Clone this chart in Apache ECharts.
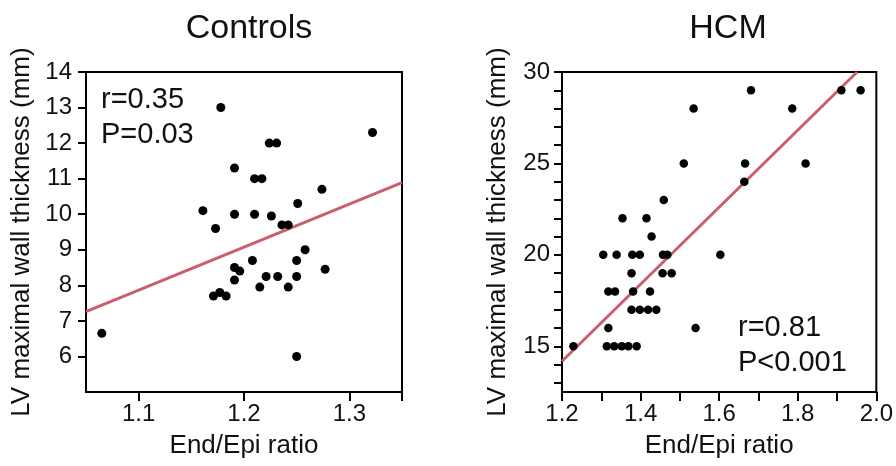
<!DOCTYPE html>
<html>
<head>
<meta charset="utf-8">
<script src="https://cdn.jsdelivr.net/npm/echarts@6/dist/echarts.min.js"></script>
<style>
  html, body { margin: 0; padding: 0; background: #fff; }
  #chart { width: 896px; height: 466px; }
</style>
</head>
<body>
<div id="chart"></div>
<script>
// Controls: End/Epi ratio vs LV maximal wall thickness
const controlsPoints = [
    [1.065, 6.65], [1.178, 13.0], [1.161, 10.1], [1.173, 9.6], [1.191, 11.3],
    [1.191, 10.0], [1.210, 11.0], [1.217, 11.0], [1.224, 12.0], [1.231, 12.0],
    [1.210, 10.0], [1.226, 9.95], [1.236, 9.7], [1.242, 9.7], [1.251, 10.3],
    [1.274, 10.7], [1.258, 9.0], [1.250, 8.7], [1.277, 8.45], [1.208, 8.7],
    [1.191, 8.5], [1.196, 8.4], [1.191, 8.15], [1.171, 7.7], [1.177, 7.8],
    [1.183, 7.7], [1.215, 7.95], [1.221, 8.25], [1.232, 8.25], [1.242, 7.95],
    [1.250, 8.25], [1.250, 6.0], [1.322, 12.3]
];
const controlsFit = [[1.05, 7.26], [1.35, 10.89]];

// HCM
const hcmPoints = [
    [1.229, 15], [1.314, 15], [1.333, 15], [1.352, 15], [1.369, 15], [1.390, 15],
    [1.318, 16], [1.540, 16],
    [1.377, 17], [1.398, 17], [1.419, 17], [1.440, 17],
    [1.318, 18], [1.335, 18], [1.381, 18], [1.424, 18],
    [1.377, 19], [1.456, 19], [1.479, 19],
    [1.305, 20], [1.339, 20], [1.379, 20], [1.398, 20], [1.457, 20], [1.468, 20], [1.603, 20],
    [1.428, 21], [1.354, 22], [1.415, 22], [1.459, 23],
    [1.664, 24], [1.510, 25], [1.666, 25], [1.820, 25],
    [1.535, 28], [1.786, 28], [1.681, 29], [1.911, 29], [1.960, 29]
];
const hcmFit = [[1.2, 14.18], [1.951, 30]];

// tick lists
const controlsXTicks = [1.1, 1.2, 1.3, 1.35];
const controlsXLabels = [1.1, 1.2, 1.3];
const controlsYTicks = [6, 7, 8, 9, 10, 11, 12, 13, 14];
const hcmXTicks = [1.2, 1.3, 1.4, 1.5, 1.6, 1.7, 1.8, 1.9, 2.0];
const hcmXLabels = [1.2, 1.4, 1.6, 1.8, 2.0];
const hcmYTicks = [13, 14, 15, 16, 17, 18, 19, 20, 21, 22, 23, 24, 25, 26, 27, 28, 29, 30];
const hcmYLabels = [15, 20, 25, 30];

const FONT = "'Liberation Sans', Arial, sans-serif";
const chart = echarts.init(document.getElementById("chart"));

function xAxisOf(idx, min, max, ticks, labels, fmt) {
    return {
        type: 'value', gridIndex: idx, min: min, max: max,
        name: 'End/Epi ratio', nameLocation: 'middle', nameGap: 41,
        nameTextStyle: {fontFamily: FONT, fontSize: 26, color: '#111'},
        axisLine: {lineStyle: {color: '#000', width: 2}},
        axisTick: {length: 9, lineStyle: {color: '#000', width: 2}, customValues: ticks},
        axisLabel: {fontFamily: FONT, fontSize: 24, color: '#111', margin: 10,
            customValues: labels, formatter: fmt},
        splitLine: {show: false}
    };
}
function yAxisOf(idx, min, max, ticks, labels, margin) {
    return {
        type: 'value', gridIndex: idx, min: min, max: max,
        name: 'LV maximal wall thickness (mm)', nameLocation: 'middle', nameGap: 51,
        nameTextStyle: {fontFamily: FONT, fontSize: 26, color: '#111'},
        axisLine: {lineStyle: {color: '#000', width: 2}},
        axisTick: {length: 8, lineStyle: {color: '#000', width: 2}, customValues: ticks},
        axisLabel: {fontFamily: FONT, fontSize: 24, color: '#111', margin: margin,
            customValues: labels},
        splitLine: {show: false}
    };
}

const option = {
    animation: false,
    backgroundColor: '#fff',
    title: [
        {text: 'Controls', left: 244, top: 7, textAlign: 'center',
            textStyle: {fontFamily: FONT, fontSize: 34, fontWeight: 'normal', color: '#111'}},
        {text: 'HCM', left: 723, top: 7, textAlign: 'center',
            textStyle: {fontFamily: FONT, fontSize: 34, fontWeight: 'normal', color: '#111'}}
    ],
    grid: [
        {left: 86, top: 72, right: 494, bottom: 74, show: true, borderColor: '#000', borderWidth: 2},
        {left: 562, top: 72, right: 18, bottom: 74, show: true, borderColor: '#000', borderWidth: 2}
    ],
    xAxis: [
        xAxisOf(0, 1.05, 1.35, controlsXTicks, controlsXLabels, function (v) { return v.toFixed(1); }),
        xAxisOf(1, 1.2, 2.0, hcmXTicks, hcmXLabels, function (v) { return v.toFixed(1); })
    ],
    yAxis: [
        yAxisOf(0, 5, 14, controlsYTicks, controlsYTicks, 14),
        yAxisOf(1, 12.5, 30, hcmYTicks, hcmYLabels, 12)
    ],
    graphic: [
        {type: 'text', left: 101, top: 82, z: 10,
            style: {text: 'r=0.35\nP=0.03', font: '29px ' + FONT, fill: '#111', lineHeight: 35}},
        {type: 'text', left: 738, top: 310, z: 10,
            style: {text: 'r=0.81\nP<0.001', font: '29px ' + FONT, fill: '#111', lineHeight: 35}}
    ],
    series: [
        {type: 'line', xAxisIndex: 0, yAxisIndex: 0, data: controlsFit, showSymbol: false,
            lineStyle: {color: '#c95f6b', width: 3}, z: 2},
        {type: 'scatter', xAxisIndex: 0, yAxisIndex: 0, data: controlsPoints, symbolSize: 9,
            itemStyle: {color: '#000', opacity: 1}, z: 3},
        {type: 'line', xAxisIndex: 1, yAxisIndex: 1, data: hcmFit, showSymbol: false,
            lineStyle: {color: '#c95f6b', width: 3}, z: 2},
        {type: 'scatter', xAxisIndex: 1, yAxisIndex: 1, data: hcmPoints, symbolSize: 8.5,
            itemStyle: {color: '#000', opacity: 1}, z: 3}
    ]
};
chart.setOption(option);
</script>
</body>
</html>
